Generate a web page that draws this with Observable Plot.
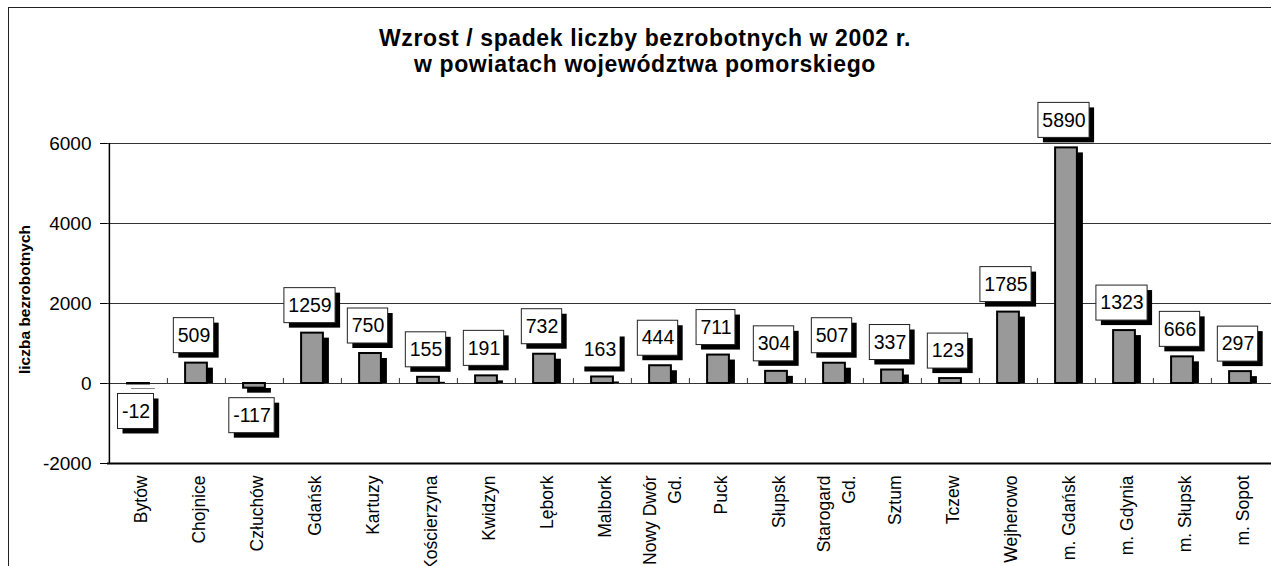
<!DOCTYPE html>
<html>
<head>
<meta charset="utf-8">
<script src="https://cdn.jsdelivr.net/npm/d3@7"></script>
<script src="https://cdn.jsdelivr.net/npm/@observablehq/plot@0.6"></script>
<style>
  html, body { margin: 0; padding: 0; background: #fff; }
  #wrap { position: relative; width: 1271px; height: 566px; overflow: hidden; background: #fff;
          font-family: "Liberation Sans", Arial, sans-serif; }
  #frame { position: absolute; left: 8px; top: 7px; width: 1400px; height: 700px;
           border: 1.5px solid #222; box-sizing: border-box; }
  #title { position: absolute; left: 345px; width: 600px; top: 0; text-align: center;
           font-weight: bold; font-size: 23px; letter-spacing: 0.6px; color: #000; }
  #title div { position: absolute; left: 0; width: 600px; white-space: nowrap; }
  #chart { position: absolute; left: 0; top: 0; }
</style>
</head>
<body>
<div id="wrap">
  <div id="frame"></div>
  <div id="chart"></div>
  <div id="title">
    <div id="t1" style="top: 25px;">Wzrost / spadek liczby bezrobotnych w 2002 r.</div>
    <div id="t2" style="top: 51px;">w powiatach województwa pomorskiego</div>
  </div>
</div>
<script>
// ---- data ----
const categories = ["Bytów", "Chojnice", "Człuchów", "Gdańsk", "Kartuzy", "Kościerzyna", "Kwidzyn", "Lębork",
  "Malbork", "Nowy Dwór Gd.", "Puck", "Słupsk", "Starogard Gd.", "Sztum", "Tczew", "Wejherowo",
  "m. Gdańsk", "m. Gdynia", "m. Słupsk", "m. Sopot"];
const xTickLabels = ["Bytów", "Chojnice", "Człuchów", "Gdańsk", "Kartuzy", "Kościerzyna", "Kwidzyn", "Lębork",
  "Malbork", "Nowy Dwór\nGd.", "Puck", "Słupsk", "Starogard\nGd.", "Sztum", "Tczew", "Wejherowo",
  "m. Gdańsk", "m. Gdynia", "m. Słupsk", "m. Sopot"];
const values = [-12, 509, -117, 1259, 750, 155, 191, 732, 163, 444, 711, 304, 507, 337, 123, 1785, 5890, 1323, 666, 297];
const yTicks = [-2000, 0, 2000, 4000, 6000];
const yLabel = "liczba bezrobotnych";

// ---- layout ----
const W = 1271, H = 566;
const mL = 107, mR = 0, mT = 143, mB = 103;
const bw = (W - mL - mR) / categories.length;
const font = '"Liberation Sans", Arial, sans-serif';

const data = categories.map((name, i) => ({name, v: values[i], label: String(values[i])}));
const pos = data.filter(d => d.v > 0);
const neg = data.filter(d => d.v < 0);
const tickLabelOf = new Map(categories.map((c, i) => [c, xTickLabels[i]]));

// measure label text widths
const ctx = document.createElement("canvas").getContext("2d");
ctx.font = `19.5px ${font}`;
const barInset = (bw - 22) / 2;

const labelMarks = [];
for (const d of data) {
  const tw = ctx.measureText(d.label).width;
  const boxW = tw + 8;
  const ins = (bw - boxW) / 2;
  const off = d.v >= 0 ? -27.5 : 27.5;
  const common = {x: "name", y1: "v", y2: "v", insetTop: -17.5, insetBottom: -17.5, insetLeft: ins, insetRight: ins};
  labelMarks.push(Plot.barY([d], {...common, dx: 2.5, dy: off + 5, fill: "#000"}));
  labelMarks.push(Plot.barY([d], {...common, dx: -2.5, dy: off, fill: "#fff",
    stroke: d.name === "Malbork" ? "none" : "#222", strokeWidth: 1}));
}

const chart = Plot.plot({
  width: W, height: H,
  marginLeft: mL, marginRight: mR, marginTop: mT, marginBottom: mB,
  style: {fontFamily: font, fontSize: "18px", background: "transparent", overflow: "visible"},
  x: {type: "band", domain: categories, paddingInner: 0, paddingOuter: 0},
  y: {domain: [-2000, 6000]},
  marks: [
    // gridlines
    Plot.ruleY(yTicks.filter(t => t > -2000), {y: d => d, stroke: "#333", strokeWidth: 1}),
    Plot.ruleY(yTicks.filter(t => t === -2000), {y: d => d, stroke: "#000", strokeWidth: 2}),
    // left axis line
    Plot.ruleX(categories.slice(0, 1), {x: d => d, dx: -bw / 2, y1: -2000, y2: 6000, stroke: "#000", strokeWidth: 1.5}),
    // category tick marks on the zero line
    Plot.ruleX(categories.slice(1), {x: d => d, dx: -bw / 2, y1: 0, y2: 125, stroke: "#333", strokeWidth: 1}),
    // bar shadows
    Plot.barY(pos, {x: "name", y1: 0, y2: "v", dx: 5, dy: 5, insetBottom: 5, insetLeft: barInset - 1, insetRight: barInset - 1, fill: "#000"}),
    Plot.barY(neg, {x: "name", y1: 0, y2: "v", dx: 5, dy: 5, insetLeft: barInset - 1, insetRight: barInset - 1, fill: "#000"}),
    // bars
    Plot.barY(data, {x: "name", y1: 0, y2: "v", insetLeft: barInset, insetRight: barInset, fill: "#999", stroke: "#000", strokeWidth: 2}),
    // label boxes
    ...labelMarks,
    // label text
    Plot.text(pos, {x: "name", y: "v", text: "label", dx: -2.5, dy: -27.5, fontSize: 19.5, fill: "#000"}),
    Plot.text(neg, {x: "name", y: "v", text: "label", dx: -2.5, dy: 27.5, fontSize: 19.5, fill: "#000"}),
    // axes
    Plot.axisY({ticks: yTicks, tickSize: 7, tickPadding: 9, tickFormat: d => String(d), fontSize: 19, label: null, stroke: "#000"}),
    Plot.axisX({tickRotate: -90, tickSize: 0, tickPadding: 12, fontSize: 17.5, lineHeight: 1.45,
      tickFormat: d => tickLabelOf.get(d), label: null}),
    // y axis title
    Plot.text([yLabel], {text: d => d, frameAnchor: "left", textAnchor: "middle", dx: -82, dy: -4, rotate: -90, fontSize: 15.5, fontWeight: "bold", fill: "#000"})
  ]
});
document.getElementById("chart").appendChild(chart);
</script>
</body>
</html>
